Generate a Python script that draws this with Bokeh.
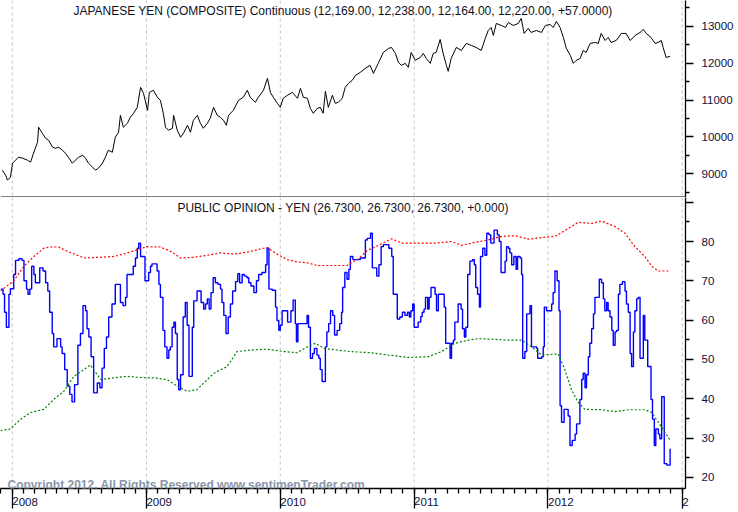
import pandas as pd
from bokeh.plotting import figure
from bokeh.models import Range1d, LinearAxis, FixedTicker, Label, Span
from bokeh.layouts import column
from bokeh.embed import file_html
from bokeh.resources import INLINE

# ---------------- data ----------------
base_date = "2007-11-30"
x_end_date = "2013-01-10"
year_starts = ["2008-01-01", "2009-01-01", "2010-01-01", "2011-01-01", "2012-01-01", "2013-01-01"]
year_labels = ["2008", "2009", "2010", "2011", "2012", "2"]

yen_ticks = [9000, 10000, 11000, 12000, 13000]
yen_minor = [8500, 9500, 10500, 11500, 12500, 13500]
po_ticks = [20, 30, 40, 50, 60, 70, 80, 90]
po_tick_labels = ["20", "30", "40", "50", "60", "70", "80", ""]
po_minor = [25, 35, 45, 55, 65, 75, 85]

top_title = "JAPANESE YEN (COMPOSITE) Continuous (12,169.00, 12,238.00, 12,164.00, 12,220.00, +57.0000)"
bottom_title = "PUBLIC OPINION - YEN (26.7300, 26.7300, 26.7300, +0.000)"
copyright_text = "Copyright 2012, All Rights Reserved  www.sentimenTrader.com"

# days since base_date
yen_days = [5, 14, 19, 27, 33, 41, 49, 60, 74, 82,
            90, 101, 104, 114, 123, 131, 142, 150, 158, 169,
            177, 185, 196, 204, 213, 224, 232, 240, 251, 259,
            267, 278, 286, 294, 305, 313, 322, 327, 335, 346,
            354, 363, 373, 382, 390, 401, 406, 417, 428, 436,
            444, 450, 458, 469, 472, 482, 491, 499, 510, 518,
            526, 537, 545, 553, 564, 572, 581, 591, 600, 608,
            616, 622, 635, 649, 662, 673, 681, 695, 703, 717,
            728, 736, 744, 755, 763, 771, 782, 796, 810, 818,
            826, 837, 845, 853, 864, 872, 880, 886, 894, 905,
            913, 921, 932, 940, 949, 959, 968, 981, 995, 1008,
            1017, 1030, 1044, 1058, 1066, 1077, 1085, 1093, 1104, 1112,
            1120, 1131, 1145, 1153, 1161, 1172, 1180, 1188, 1199, 1207,
            1216, 1221, 1229, 1243, 1257, 1270, 1284, 1297, 1311, 1322,
            1330, 1338, 1344, 1352, 1366, 1377, 1385, 1398, 1412, 1420,
            1428, 1439, 1447, 1461, 1475, 1486, 1499, 1507, 1516, 1526,
            1535, 1543, 1554, 1562, 1570, 1581, 1589, 1597, 1608, 1622,
            1630, 1638, 1649, 1657, 1665, 1679, 1693, 1706, 1717, 1731,
            1744, 1753, 1761, 1774, 1785, 1793, 1802, 1807, 1815, 1826]
yen_values = [9100, 8964, 8830, 8910, 9289, 9370, 9451, 9424, 9370, 9316,
              9559, 9856, 10262, 10100, 9964, 9911, 9721, 9694, 9721, 9640,
              9559, 9451, 9289, 9370, 9451, 9505, 9424, 9289, 9181, 9100,
              9154, 9289, 9451, 9640, 9586, 9992, 10127, 10587, 10262, 10370,
              10532, 10640, 10802, 11343, 11181, 10721, 11208, 11262, 11073, 10992,
              10640, 10262, 10181, 10235, 10587, 10181, 9992, 10100, 10316, 10127,
              10451, 10587, 10370, 10235, 10370, 10505, 10802, 10587, 10532, 10451,
              10316, 10587, 10721, 10992, 11073, 11262, 11073, 10938, 11073, 11262,
              11586, 11208, 11073, 10911, 10802, 11046, 11127, 11208, 11046, 11316,
              11073, 11046, 10775, 10640, 10775, 10802, 10640, 11235, 10802, 11127,
              10911, 10938, 11046, 11343, 11451, 11532, 11667, 11748, 11857, 11938,
              11721, 11992, 12289, 12397, 12424, 12262, 12019, 11938, 11992, 11884,
              12289, 12073, 12154, 12262, 12127, 11992, 12262, 12289, 12640, 12262,
              11938, 11776, 12127, 12424, 12343, 12532, 12478, 12424, 12343, 12668,
              12884, 12965, 12749, 13073, 13019, 12965, 13100, 13019, 13073, 13208,
              12803, 12938, 12830, 12884, 12830, 13019, 13046, 12965, 13127, 12965,
              12695, 12397, 12208, 11992, 12073, 12127, 12343, 12289, 12532, 12559,
              12532, 12803, 12613, 12695, 12559, 12613, 12803, 12803, 12613, 12749,
              12830, 12911, 12803, 12695, 12532, 12559, 12613, 12424, 12154, 12181]

po_days = [0, 7, 11, 16, 23, 27, 36, 41, 50, 59,
           64, 71, 75, 80, 85, 91, 95, 107, 116, 123,
           129, 134, 141, 145, 154, 164, 168, 175, 182, 189,
           195, 202, 211, 218, 225, 232, 236, 241, 247, 254,
           264, 271, 277, 283, 289, 295, 304, 313, 327, 334,
           341, 345, 362, 368, 373, 377, 382, 394, 404, 409,
           413, 427, 432, 436, 443, 448, 454, 459, 463, 468,
           473, 477, 482, 486, 491, 498, 504, 509, 514, 523,
           527, 536, 547, 554, 559, 564, 569, 574, 580, 586,
           593, 600, 604, 609, 615, 621, 627, 633, 641, 647,
           652, 659, 665, 672, 677, 683, 691, 698, 704, 713,
           723, 727, 732, 741, 750, 754, 759, 763, 768, 783,
           792, 798, 804, 807, 811, 836, 840, 845, 851, 856,
           863, 868, 872, 877, 886, 890, 895, 900, 906, 911,
           918, 925, 930, 933, 939, 945, 950, 954, 961, 981,
           995, 1000, 1009,
           1014, 1026, 1032, 1038, 1044, 1059, 1067, 1071, 1082, 1089,
           1096, 1103, 1110, 1115, 1119, 1124, 1128, 1139, 1146, 1150,
           1155, 1159, 1165, 1169, 1174, 1185, 1189, 1194, 1210, 1214,
           1226, 1230, 1235, 1239, 1248, 1256, 1260, 1265, 1269, 1274,
           1280, 1287, 1292, 1296, 1301, 1306, 1309, 1315, 1321, 1326,
           1332, 1337, 1346, 1355, 1360, 1365, 1376, 1380, 1385, 1389,
           1394, 1400, 1406, 1410, 1417, 1421, 1424, 1430, 1435, 1444,
           1448, 1462, 1465, 1476, 1480, 1483, 1489, 1503, 1507, 1512,
           1518, 1523, 1526, 1530, 1537, 1548, 1553, 1559, 1567, 1571,
           1580, 1585, 1589, 1594, 1598, 1603, 1607, 1612, 1617, 1621,
           1633, 1639, 1644, 1648, 1653, 1657, 1662, 1667, 1671, 1676,
           1680, 1685, 1689, 1696, 1703, 1707, 1712, 1717, 1721, 1726,
           1730, 1735, 1739, 1744, 1753, 1757, 1765, 1774, 1778, 1783,
           1787, 1794, 1798, 1803, 1810, 1817, 1826]
po_values = [67.9, 66.6, 62.0, 58.2, 66.6, 68.0, 71.6, 75.2, 75.6, 75.2,
             70.0, 67.9, 66.6, 67.9, 73.7, 71.6, 69.5, 73.3, 72.5, 69.5,
             67.4, 62.0, 56.6, 53.2, 55.3, 53.2, 51.5, 47.4, 43.2, 41.1,
             39.2, 43.6, 53.6, 56.6, 63.7, 62.4, 57.8, 55.7, 50.7, 41.5,
             44.0, 42.8, 47.8, 52.8, 55.7, 60.8, 64.1, 69.1, 64.5, 63.7,
             65.8, 71.6, 73.7, 75.8, 78.3, 79.6, 76.2, 70.0, 72.1, 73.7,
             74.3, 72.5, 69.1, 65.8, 57.4, 53.2, 50.3, 52.4, 53.2, 58.2,
             59.5, 56.6, 44.9, 42.3, 46.1, 60.8, 64.5, 58.7, 45.7, 58.2,
             64.9, 67.4, 64.5, 62.8, 64.1, 65.4, 62.8, 67.0, 70.8, 69.5,
             69.1, 67.9, 64.5, 61.2, 56.6, 60.8, 64.1, 67.4, 69.8, 71.8,
             69.5, 71.6, 71.2, 70.8, 69.5, 68.7, 67.0, 70.0, 71.6, 72.1,
             74.1, 78.3, 67.9, 67.6, 63.3, 59.9, 57.4, 58.7, 62.4, 59.5,
             62.4, 65.1, 59.1, 54.5, 59.1, 61.2, 58.2, 50.3, 51.5, 52.8,
             51.1, 50.3, 47.4, 44.4, 53.2, 57.0, 59.1, 62.4, 61.2, 56.2,
             57.4, 59.1, 62.0, 68.3, 72.1, 70.4, 72.9, 76.2, 75.4, 75.8,
             80.4, 80.8, 82.1,
             73.3, 71.2, 74.1, 78.7, 79.2, 78.3, 76.2, 66.6, 60.3, 60.8,
             62.0, 61.2, 62.0, 60.8, 62.4, 64.1, 58.2, 59.5, 60.9, 62.0,
             62.8, 65.8, 62.8, 65.8, 68.3, 66.6, 62.4, 66.6, 63.3, 54.1,
             50.3, 54.1, 54.9, 59.5, 64.1, 62.8, 57.8, 55.7, 58.2, 71.6,
             75.0, 75.4, 74.1, 68.3, 66.6, 63.3, 76.2, 78.3, 76.5, 82.1,
             81.7, 79.6, 82.9, 81.7, 80.0, 72.1, 75.0, 78.7, 78.3, 77.1,
             74.1, 76.2, 72.9, 76.2, 75.8, 71.6, 50.3, 52.0, 61.6, 63.7,
             53.2, 52.8, 50.3, 50.7, 53.2, 63.3, 62.4, 64.1, 67.0, 72.5,
             70.0, 62.4, 38.2, 34.0, 37.3, 35.6, 28.1, 29.4, 31.0, 33.6,
             39.8, 44.9, 46.5, 42.8, 46.1, 50.7, 54.1, 57.8, 61.6, 65.8,
             70.4, 69.5, 65.4, 62.4, 64.5, 62.4, 60.8, 57.4, 53.6, 57.0,
             57.4, 66.6, 69.1, 69.8, 67.4, 64.1, 62.0, 51.5, 48.2, 57.0,
             62.4, 65.4, 65.8, 50.3, 61.2, 54.9, 48.2, 39.8, 34.8, 28.1,
             32.3, 31.0, 29.8, 40.5, 23.5, 23.1, 27.3]

upper_days = [0, 36, 64, 91, 118, 136, 159, 182, 205, 227,
              273, 309, 336, 373, 400, 436, 464, 491, 527, 564,
              600, 636, 673, 709, 727, 754, 782, 809, 836, 864,
              909, 945, 973, 1000, 1030, 1067, 1094, 1139, 1185, 1230,
              1258, 1294, 1330, 1367, 1403, 1439, 1476, 1512, 1548, 1576,
              1612, 1639, 1676, 1703, 1730, 1757, 1776, 1794, 1826]
upper_values = [67.4, 70.0, 73.7, 76.2, 78.3, 78.6, 78.6, 77.5, 76.7, 75.8,
                76.0, 76.2, 76.8, 77.9, 78.7, 78.6, 77.5, 75.8, 76.0, 76.5,
                77.1, 76.8, 77.3, 78.1, 78.5, 76.8, 75.4, 74.8, 74.6, 73.9,
                73.9, 73.9, 75.4, 77.7, 79.0, 80.7, 79.6, 79.6, 79.6, 80.0,
                79.0, 79.8, 80.4, 81.3, 81.5, 80.6, 81.0, 81.3, 83.3, 84.9,
                84.6, 85.2, 83.8, 82.1, 78.7, 76.2, 73.7, 72.5, 72.5]

lower_days = [0, 27, 55, 82, 118, 145, 173, 200, 227, 245,
              273, 309, 345, 382, 418, 454, 482, 509, 536, 554,
              582, 618, 645, 682, 727, 773, 809, 836, 859, 882,
              918, 954, 1009, 1058, 1112, 1167, 1203, 1239, 1276, 1303,
              1348, 1385, 1421, 1448, 1476, 1521, 1539, 1557, 1576, 1594,
              1639, 1676, 1712, 1757, 1776, 1794, 1812, 1826]
lower_values = [31.9, 32.3, 34.8, 36.5, 37.3, 39.8, 41.9, 45.7, 47.4, 48.6,
                44.9, 45.3, 45.7, 45.4, 45.3, 44.9, 43.2, 41.9, 42.3, 44.0,
                46.5, 48.2, 52.0, 52.4, 52.6, 52.0, 51.7, 53.2, 54.1, 52.8,
                52.4, 52.0, 51.7, 51.1, 50.5, 50.7, 52.0, 54.1, 54.9, 55.3,
                55.1, 54.9, 54.9, 53.2, 51.1, 51.4, 47.4, 42.3, 39.0, 37.3,
                37.2, 36.7, 37.2, 37.2, 36.5, 34.0, 31.5, 29.4]

# ---------------- helpers ----------------
base = pd.Timestamp(base_date)


def to_dates(days):
    return (base + pd.to_timedelta(days, unit="D")).values


def ms(ts):
    return int(pd.Timestamp(ts).value // 10**6)


year_ms = [ms(d) for d in year_starts]
month_ms = [ms(d) for d in pd.date_range("2007-12-01", "2013-01-01", freq="MS")]
x_start, x_end = ms(base_date), ms(x_end_date)

FONT = "Liberation Sans"
LABEL_COLOR = "#10103a"
GRID_COLOR = "#c4c4c4"
LW = 1.3

xr = Range1d(start=x_start, end=x_end)
common = dict(width=738, toolbar_location=None, output_backend="svg", x_range=xr,
              x_axis_type="datetime", y_axis_location=None,
              min_border_left=0, min_border_right=53, min_border_top=0,
              outline_line_color=None)


def style_right(ax):
    ax.axis_line_color = "#000000"
    ax.axis_line_width = LW
    ax.major_tick_line_color = "#000000"
    ax.major_tick_line_width = LW
    ax.minor_tick_line_color = "#000000"
    ax.minor_tick_line_width = LW
    ax.major_tick_out = 8
    ax.major_tick_in = 0
    ax.minor_tick_out = 4
    ax.minor_tick_in = 0
    ax.major_label_text_font = FONT
    ax.major_label_text_font_size = "11.5px"
    ax.major_label_text_color = LABEL_COLOR
    ax.major_label_standoff = 8


def year_lines(p):
    for t in year_ms:
        p.add_layout(Span(location=t, dimension="height", line_color=GRID_COLOR,
                          line_width=1, line_dash="3 3", level="underlay"))


# ---------------- top panel ----------------
top_y0, top_y1 = 8360, 13695
top = figure(height=197, y_range=Range1d(top_y0, top_y1), x_axis_location=None,
             min_border_bottom=0, **common)
top.grid.visible = False
year_lines(top)
ya = LinearAxis(ticker=FixedTicker(ticks=yen_ticks, minor_ticks=yen_minor))
style_right(ya)
top.add_layout(ya, "right")
top.add_layout(Span(location=top_y0, dimension="width", line_color="#000000", line_width=2.2))

top.line(to_dates(yen_days), yen_values, line_color="black", line_width=1.0)

top.add_layout(Label(x=(x_start + x_end) / 2, y=top_y1 - (top_y1 - top_y0) * 0.051,
                     text=top_title, text_align="center", text_baseline="middle",
                     text_font=FONT, text_font_size="12px", text_color="#111122"))

# ---------------- bottom panel ----------------
bot_y0, bot_y1 = 17.16, 91.2
bot = figure(height=315, y_range=Range1d(bot_y0, bot_y1), x_axis_location="below",
             min_border_bottom=20, **common)
bot.grid.visible = False
year_lines(bot)

xa = bot.xaxis[0]
xa.ticker = FixedTicker(ticks=year_ms, minor_ticks=month_ms)
xa.major_label_overrides = {t: lab for t, lab in zip(year_ms, year_labels)}
xa.major_label_orientation = -0.0001   # near-horizontal: labels start at the tick
xa.major_label_standoff = -7
xa.major_label_text_font = FONT
xa.major_label_text_font_size = "11.5px"
xa.major_label_text_color = LABEL_COLOR
xa.axis_line_color = "#000000"
xa.axis_line_width = LW
xa.major_tick_line_color = "#000000"
xa.major_tick_line_width = LW
xa.minor_tick_line_color = "#000000"
xa.minor_tick_line_width = LW
xa.major_tick_out = 20
xa.major_tick_in = 0
xa.minor_tick_out = 5
xa.minor_tick_in = 0

pa = LinearAxis(ticker=FixedTicker(ticks=po_ticks, minor_ticks=po_minor),
                major_label_overrides={t: lab for t, lab in zip(po_ticks, po_tick_labels)})
style_right(pa)
bot.add_layout(pa, "right")

bot.step(to_dates(po_days), po_values, mode="after", line_color="#0000ff", line_width=1.4)
bot.line(to_dates(upper_days), upper_values, line_color="#ff0000", line_width=1.2, line_dash="2 2")
bot.line(to_dates(lower_days), lower_values, line_color="#008000", line_width=1.2, line_dash="2 2")

bot.add_layout(Label(x=(x_start + x_end) / 2, y=bot_y1 - (bot_y1 - bot_y0) * 0.037,
                     text=bottom_title, text_align="center", text_baseline="middle",
                     text_font=FONT, text_font_size="12px", text_color="#111122"))
bot.add_layout(Label(x=x_start + (x_end - x_start) * 7 / 685, y=bot_y0 + (bot_y1 - bot_y0) * 0.011,
                     text=copyright_text, text_align="left", text_baseline="alphabetic",
                     text_font=FONT, text_font_style="bold", text_font_size="12px",
                     text_color="#8a96aa"))

layout = column(top, bot, spacing=0)
open("out.html", "w").write(file_html(layout, INLINE))
